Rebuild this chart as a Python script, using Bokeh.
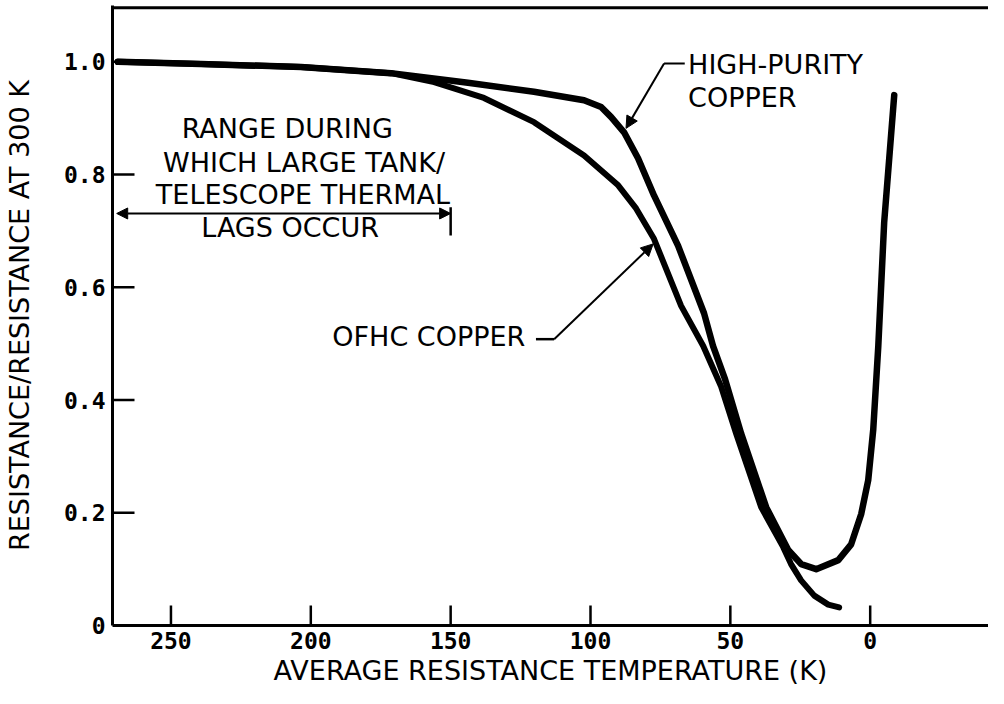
from bokeh.plotting import figure
from bokeh.models import Range1d, FixedTicker, Span, Arrow, NormalHead, ColumnDataSource
from bokeh.embed import file_html
from bokeh.resources import INLINE
from bokeh.core.properties import value

# ---- data ----
hp_temp = [269.0, 239.3, 203.5, 171.3, 143.8, 120.2, 102.3, 96.2, 92.6, 88.0, 83.0, 77.3,
           68.7, 59.4, 56.2, 51.9, 46.1, 37.2, 29.3, 24.7, 19.3, 11.4, 6.8, 3.2, 0.7,
           -1.1, -2.9, -5.0, -8.6]
hp_ratio = [1.000, 0.996, 0.991, 0.980, 0.963, 0.947, 0.932, 0.920, 0.902, 0.875, 0.829, 0.763,
            0.674, 0.554, 0.496, 0.437, 0.340, 0.210, 0.134, 0.109, 0.100, 0.116, 0.144, 0.198,
            0.258, 0.348, 0.496, 0.715, 0.941]

ofhc_temp = [269.0, 239.3, 203.5, 171.3, 155.9, 138.1, 120.2, 102.3, 90.1, 83.7, 77.3, 67.6,
             59.7, 53.3, 47.9, 39.0, 31.1, 28.3, 24.7, 20.0, 15.0, 11.1]
ofhc_ratio = [1.000, 0.996, 0.991, 0.980, 0.964, 0.936, 0.893, 0.834, 0.781, 0.740, 0.686, 0.567,
              0.496, 0.424, 0.340, 0.210, 0.139, 0.109, 0.080, 0.053, 0.037, 0.032]

x_ticks = [250, 200, 150, 100, 50, 0]
y_ticks = [0, 0.2, 0.4, 0.6, 0.8, 1]
y_tick_labels = ["0", "0.2", "0.4", "0.6", "0.8", "1.0"]

range_lines = ["RANGE DURING", "WHICH LARGE TANK/", "TELESCOPE THERMAL", "LAGS OCCUR"]
hp_label_lines = ["HIGH-PURITY", "COPPER"]
ofhc_label = "OFHC COPPER"

TXT_FONT = "DejaVu Sans"
TICK_FONT = "DejaVu Sans Mono"

X_LEFT, X_RIGHT = 270.9, -42.3
Y_BOTTOM, Y_TOP = 0.0, 1.10

p = figure(width=988, height=688, output_backend="svg", toolbar_location=None,
           x_range=Range1d(X_LEFT, X_RIGHT), y_range=Range1d(Y_BOTTOM, Y_TOP),
           min_border_left=107, min_border_right=0, min_border_top=5, min_border_bottom=0,
           background_fill_color="white", border_fill_color="white")
p.outline_line_color = None
p.xgrid.visible = False
p.ygrid.visible = False

# axes (ticks drawn separately, pointing inward)
for ax in (p.xaxis[0], p.yaxis[0]):
    ax.axis_line_width = 3
    ax.axis_line_color = "black"
    ax.major_tick_out = 0
    ax.major_tick_in = 0
    ax.major_tick_line_color = None
    ax.minor_tick_line_color = None
    ax.major_label_text_font = TICK_FONT
    ax.major_label_text_font_style = "bold"
    ax.major_label_text_font_size = "23px"
    ax.major_label_text_color = "black"
    ax.axis_label_text_font = TXT_FONT
    ax.axis_label_text_font_style = "normal"
    ax.axis_label_text_font_size = "27px"
    ax.axis_label_text_color = "black"

p.xaxis.ticker = FixedTicker(ticks=x_ticks)
p.xaxis.major_label_standoff = 6
p.xaxis.axis_label_standoff = 3
p.xaxis.axis_label = "AVERAGE RESISTANCE TEMPERATURE (K)"

p.yaxis.ticker = FixedTicker(ticks=y_ticks)
p.yaxis.major_label_overrides = dict(zip(y_ticks, y_tick_labels))
p.yaxis.major_label_standoff = 7
p.yaxis.axis_label_standoff = 26
p.yaxis.axis_label = "RESISTANCE/RESISTANCE AT 300 K"

# inward tick marks built from the tick lists
x_tick_len = 20 / 561.0      # ~20 px in data units
y_tick_len = 22 / 2.796      # ~22 px in data units
p.segment(x0=x_ticks, y0=[Y_BOTTOM] * len(x_ticks), x1=x_ticks,
          y1=[Y_BOTTOM + x_tick_len] * len(x_ticks), line_color="black", line_width=2.5)
p.segment(x0=[X_LEFT] * len(y_ticks), y0=y_ticks, x1=[X_LEFT - y_tick_len] * len(y_ticks),
          y1=y_ticks, line_color="black", line_width=2.5)

# top frame line
p.add_layout(Span(location=Y_TOP - 0.004, dimension="width", line_color="black", line_width=3))

# curves
p.line(hp_temp, hp_ratio, line_color="black", line_width=6.5, line_join="round", line_cap="round")
p.line(ofhc_temp, ofhc_ratio, line_color="black", line_width=6.0, line_join="round", line_cap="round")

# range arrow (double headed) and end bar
p.add_layout(Arrow(x_start=150, y_start=0.731, x_end=X_LEFT - 1.5, y_end=0.731, line_width=2,
                   start=NormalHead(size=11, fill_color="black", line_color="black"),
                   end=NormalHead(size=11, fill_color="black", line_color="black")))
p.segment(x0=[150], y0=[0.692], x1=[150], y1=[0.742], line_color="black", line_width=2.5)

# text for range
src = ColumnDataSource(dict(x=[208.4, 202.4, 202.8, 207.4], y=[0.881, 0.821, 0.765, 0.706],
                            t=range_lines))
p.text(x="x", y="y", text="t", source=src, text_font=value(TXT_FONT), text_font_size="27px",
       text_align="center", text_baseline="middle", text_color="black")

# high-purity label + leader
p.text(x=[65.1, 65.1], y=[0.995, 0.937], text=hp_label_lines, text_font=value(TXT_FONT),
       text_font_size="27px", text_align="left", text_baseline="middle", text_color="black")
p.segment(x0=[66.3], y0=[0.997], x1=[73.7], y1=[0.997], line_color="black", line_width=2)
p.add_layout(Arrow(x_start=73.7, y_start=0.997, x_end=87.3, y_end=0.882, line_width=2,
                   end=NormalHead(size=12, fill_color="black", line_color="black")))

# OFHC label + leader
p.text(x=[123.3], y=[0.513], text=[ofhc_label], text_font=value(TXT_FONT),
       text_font_size="27px", text_align="right", text_baseline="middle", text_color="black")
p.segment(x0=[119.5], y0=[0.508], x1=[113.0], y1=[0.508], line_color="black", line_width=2.5)
p.add_layout(Arrow(x_start=113.0, y_start=0.508, x_end=77.6, y_end=0.677, line_width=2,
                   end=NormalHead(size=12, fill_color="black", line_color="black")))

open("out.html", "w").write(file_html(p, INLINE))
